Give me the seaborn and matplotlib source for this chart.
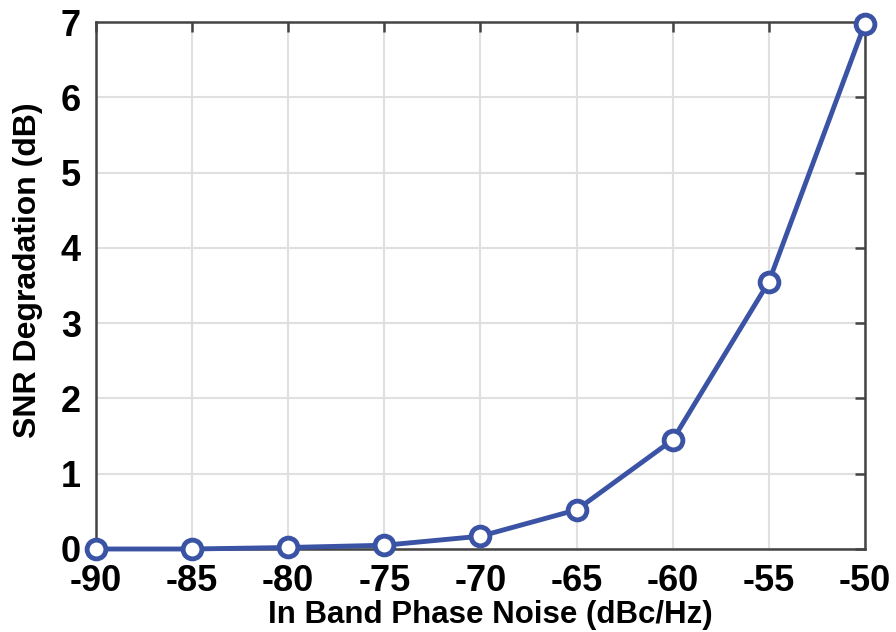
import matplotlib
matplotlib.use("Agg")
import matplotlib.pyplot as plt
import seaborn as sns
import pandas as pd

phase_noise = [-90, -85, -80, -75, -70, -65, -60, -55, -50]
snr_degradation = [0.0, 0.0, 0.02, 0.05, 0.17, 0.52, 1.45, 3.55, 6.98]
x_ticks = [-90, -85, -80, -75, -70, -65, -60, -55, -50]
y_ticks = [0, 1, 2, 3, 4, 5, 6, 7]

df = pd.DataFrame({"pn": phase_noise, "snr": snr_degradation})

sns.set_style("white")
plt.rcParams["font.family"] = ["Liberation Sans", "DejaVu Sans"]
plt.rcParams["font.weight"] = "bold"
plt.rcParams["text.color"] = "black"
plt.rcParams["axes.labelcolor"] = "black"

fig = plt.figure(figsize=(8.96, 6.32), dpi=100)
ax = fig.add_axes([96 / 896, 1 - 549 / 632, (865 - 96) / 896, (549 - 22) / 632])

color = "#3a53a4"
sns.lineplot(data=df, x="pn", y="snr", ax=ax, color=color, linewidth=3.5,
             marker="o", markersize=13.5, markerfacecolor="white",
             markeredgecolor=color, markeredgewidth=3.5, clip_on=False, zorder=5)

ax.set_xlim(-90, -50)
ax.set_ylim(0, 7)
ax.set_xticks(x_ticks)
ax.set_yticks(y_ticks)
ax.set_xticklabels([str(v) for v in x_ticks], fontsize=26, fontweight="bold", color="black")
ax.set_yticklabels([str(v) for v in y_ticks], fontsize=26, fontweight="bold", color="black")
ax.grid(True, color="#e0e0e0", linewidth=1.5)
ax.set_axisbelow(True)
for s in ax.spines.values():
    s.set_color("#444444")
    s.set_linewidth(1.8)
ax.tick_params(direction="in", length=7, width=1.8, color="#444444",
               top=True, right=True)
ax.tick_params(axis="x", pad=11)
ax.tick_params(axis="y", pad=11)
ax.set_xlabel("In Band Phase Noise (dBc/Hz)", fontsize=22.5, fontweight="bold", color="black")
ax.set_ylabel("SNR Degradation (dB)", fontsize=23, fontweight="bold", color="black")
ax.xaxis.set_label_coords(490 / 896, 1 - 615 / 632, transform=fig.transFigure)
ax.yaxis.set_label_coords(28 / 896, 1 - 270 / 632, transform=fig.transFigure)
ax.xaxis.label.set_va("center")
ax.yaxis.label.set_va("center")

fig.savefig("out.png", dpi=100)
